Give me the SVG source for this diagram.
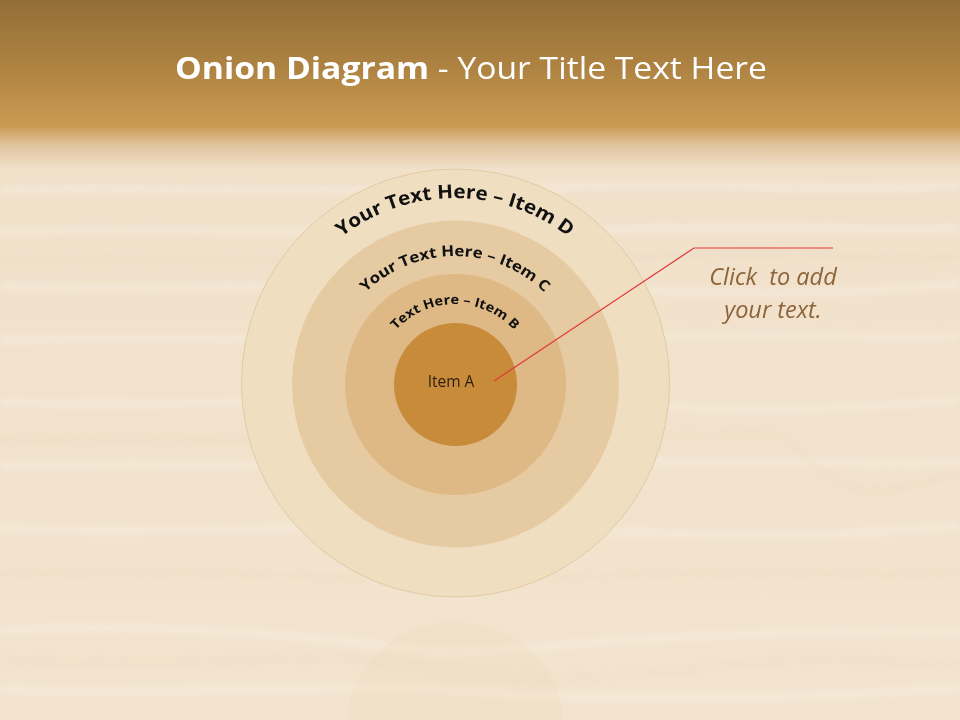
<svg xmlns="http://www.w3.org/2000/svg" width="960" height="720" viewBox="0 0 960 720">
  <defs>
    <linearGradient id="bg" x1="0" y1="0" x2="0" y2="720" gradientUnits="userSpaceOnUse">
      <stop offset="0" stop-color="#946E38"/>
      <stop offset="0.09" stop-color="#AD8241"/>
      <stop offset="0.175" stop-color="#CB9A52"/>
      <stop offset="0.2" stop-color="#E0C29C"/>
      <stop offset="0.235" stop-color="#F1E1CB"/>
      <stop offset="1" stop-color="#F3E4CF"/>
    </linearGradient>
    <filter id="soft" x="-5%" y="-50%" width="110%" height="200%">
      <feGaussianBlur stdDeviation="3"/>
    </filter>
    <path id="arcD" d="M 270 383 A 185 185 0 0 1 640 383"/>
    <path id="arcC" d="M 327 384 A 128 128 0 0 1 583 384"/>
    <path id="arcB" d="M 375 384 A 80 80 0 0 1 535 384"/>
    <style>
      .arc { font-family: "Open Sans", "Liberation Sans", sans-serif; font-weight: bold; fill: #111; }
      .grain { fill: none; stroke: #FBF4EA; stroke-width: 6; opacity: 0.4; }
      .grain2 { fill: none; stroke: #E6D2B6; stroke-width: 3; opacity: 0.35; }
      .call { font-family: "Open Sans", "Liberation Sans", sans-serif; font-style: italic; font-size: 23.5px; fill: #8C6439; text-anchor: middle; }
    </style>
  </defs>

  <rect x="0" y="0" width="960" height="720" fill="url(#bg)"/>
  <g id="wood-grain" filter="url(#soft)">
    <path class="grain" d="M0 190 C150 186 300 194 520 188 S800 192 960 186"/>
    <path class="grain" d="M0 232 C200 226 350 238 600 230 S850 234 960 228"/>
    <path class="grain" d="M0 286 C180 292 320 280 560 288 S820 294 960 284"/>
    <path class="grain" d="M0 340 C220 334 380 346 620 338 S860 342 960 336"/>
    <path class="grain" d="M0 402 C160 408 330 396 560 404 S820 410 960 400"/>
    <path class="grain" d="M0 466 C200 460 380 472 600 464 S860 468 960 462"/>
    <path class="grain" d="M0 528 C180 536 320 522 560 530 S820 536 960 526"/>
    <path class="grain" d="M0 630 C200 622 340 640 420 650 S600 628 960 632"/>
    <path class="grain" d="M0 690 C180 696 330 682 480 692 S760 700 960 688"/>
    <path class="grain2" d="M0 575 C200 568 350 584 600 576 S860 580 960 572"/>
    <path class="grain2" d="M0 660 C200 668 340 650 410 664 S560 684 700 668 S880 662 960 666"/>
    <path class="grain2" d="M0 440 C200 434 350 446 600 438 S760 430 820 470 S900 480 960 476"/>
    <path class="grain2" d="M0 260 C200 254 350 266 600 258 S860 262 960 256"/>
  </g>
  <ellipse id="reflection" cx="455" cy="722" rx="108" ry="100" fill="#EAD5B6" opacity="0.2"/>

  <g id="title">
    <text x="471" y="79" text-anchor="middle" font-family="Open Sans, Liberation Sans, sans-serif" font-size="31" fill="#FFFFFF" textLength="592" lengthAdjust="spacingAndGlyphs"><tspan font-weight="bold">Onion Diagram</tspan> - Your Title Text Here</text>
  </g>

  <g id="item-d">
    <circle cx="455.5" cy="383" r="214" fill="#F0DEC1" stroke="#E2C9A3" stroke-width="1"/>
    <text class="arc" font-size="19"><textPath href="#arcD" startOffset="50%" text-anchor="middle" textLength="244" lengthAdjust="spacingAndGlyphs">Your Text Here – Item D</textPath></text>
  </g>
  <g id="item-c">
    <circle cx="455.5" cy="384" r="163.5" fill="#E6CAA1"/>
    <text class="arc" font-size="15"><textPath href="#arcC" startOffset="50%" text-anchor="middle" textLength="198" lengthAdjust="spacingAndGlyphs">Your Text Here – Item C</textPath></text>
  </g>
  <g id="item-b">
    <circle cx="455.5" cy="384.5" r="110.5" fill="#DEB885"/>
    <text class="arc" font-size="13"><textPath href="#arcB" startOffset="50%" text-anchor="middle" textLength="133" lengthAdjust="spacingAndGlyphs">Text Here – Item B</textPath></text>
  </g>
  <g id="item-a">
    <circle cx="455.5" cy="384.5" r="61.5" fill="#C78B3A"/>
    <text x="451" y="387" text-anchor="middle" font-family="Open Sans, Liberation Sans, sans-serif" font-size="15.5" fill="#2E1E0E">Item A</text>
  </g>

  <g id="connectors">
    <polyline points="494,381 694,248 833,248" fill="none" stroke="#E0393A" stroke-width="1.2"/>
  </g>

  <g id="callout">
    <text class="call" x="773" y="285" xml:space="preserve">Click  to add</text>
    <text class="call" x="773" y="318">your text.</text>
  </g>
</svg>
